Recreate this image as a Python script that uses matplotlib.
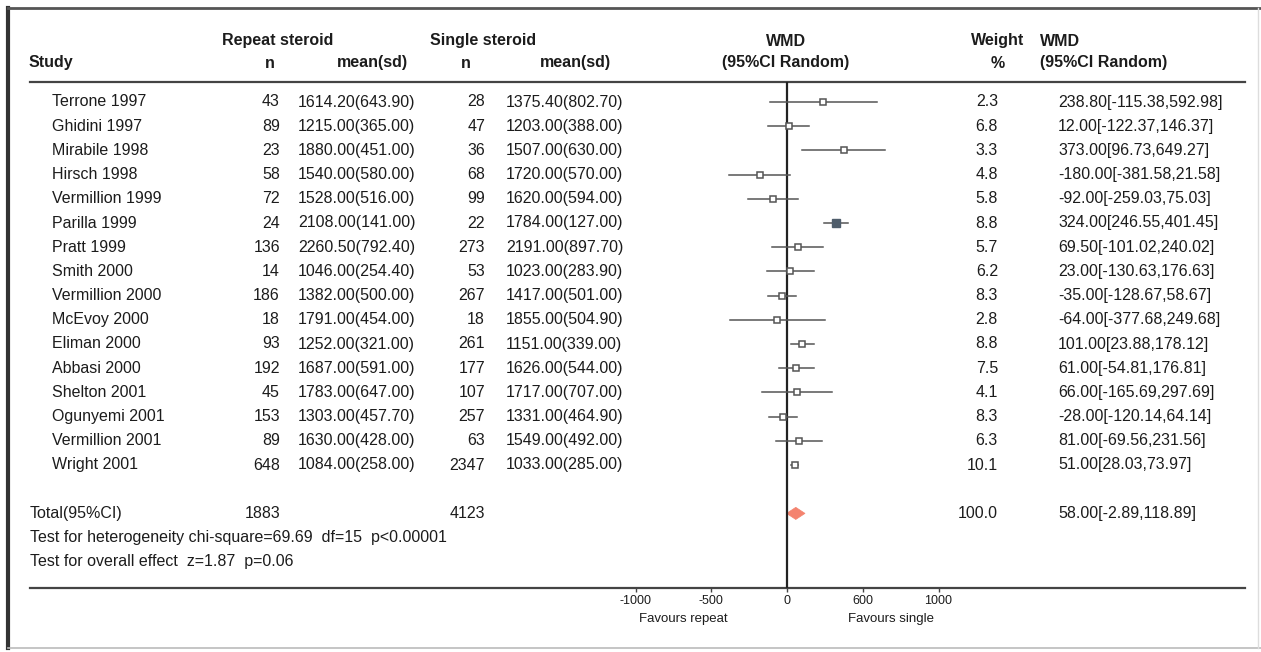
import matplotlib.pyplot as plt
from matplotlib.patches import Polygon

plt.rcParams['font.family'] = ['Liberation Sans', 'DejaVu Sans']

# data
studies = ['Terrone 1997', 'Ghidini 1997', 'Mirabile 1998', 'Hirsch 1998', 'Vermillion 1999',
           'Parilla 1999', 'Pratt 1999', 'Smith 2000', 'Vermillion 2000', 'McEvoy 2000',
           'Eliman 2000', 'Abbasi 2000', 'Shelton 2001', 'Ogunyemi 2001', 'Vermillion 2001',
           'Wright 2001']
n_rep = [43, 89, 23, 58, 72, 24, 136, 14, 186, 18, 93, 192, 45, 153, 89, 648]
mean_rep = [1614.20, 1215.00, 1880.00, 1540.00, 1528.00, 2108.00, 2260.50, 1046.00,
            1382.00, 1791.00, 1252.00, 1687.00, 1783.00, 1303.00, 1630.00, 1084.00]
sd_rep = [643.90, 365.00, 451.00, 580.00, 516.00, 141.00, 792.40, 254.40,
          500.00, 454.00, 321.00, 591.00, 647.00, 457.70, 428.00, 258.00]
n_sin = [28, 47, 36, 68, 99, 22, 273, 53, 267, 18, 261, 177, 107, 257, 63, 2347]
mean_sin = [1375.40, 1203.00, 1507.00, 1720.00, 1620.00, 1784.00, 2191.00, 1023.00,
            1417.00, 1855.00, 1151.00, 1626.00, 1717.00, 1331.00, 1549.00, 1033.00]
sd_sin = [802.70, 388.00, 630.00, 570.00, 594.00, 127.00, 897.70, 283.90,
          501.00, 504.90, 339.00, 544.00, 707.00, 464.90, 492.00, 285.00]
weight = [2.3, 6.8, 3.3, 4.8, 5.8, 8.8, 5.7, 6.2, 8.3, 2.8, 8.8, 7.5, 4.1, 8.3, 6.3, 10.1]
wmd = [238.80, 12.00, 373.00, -180.00, -92.00, 324.00, 69.50, 23.00,
       -35.00, -64.00, 101.00, 61.00, 66.00, -28.00, 81.00, 51.00]
ci_lo = [-115.38, -122.37, 96.73, -381.58, -259.03, 246.55, -101.02, -130.63,
         -128.67, -377.68, 23.88, -54.81, -165.69, -120.14, -69.56, 28.03]
ci_hi = [592.98, 146.37, 649.27, 21.58, 75.03, 401.45, 240.02, 176.63,
         58.67, 249.68, 178.12, 176.81, 297.69, 64.14, 231.56, 73.97]
solid = ['Parilla 1999']

total_n_rep = 1883
total_n_sin = 4123
total_weight = 100.0
total_wmd = 58.00
total_lo = -2.89
total_hi = 118.89

het_text = 'Test for heterogeneity chi-square=69.69  df=15  p<0.00001'
eff_text = 'Test for overall effect  z=1.87  p=0.06'

ticks = [-1000, -500, 0, 500, 1000]
tick_labels = ['-1000', '-500', '0', '600', '1000']

# page geometry in pixels
W, H = 1261, 652
y0, dy = 102, 24.2          # first study row and row spacing
rule_top, rule_bot = 82, 588
x_zero, px_per_unit = 787, 303 / 2000
ax_left, ax_right = 560, 1245

fig = plt.figure(figsize=(W / 100, H / 100), dpi=100)
lay = fig.add_axes([0, 0, 1, 1])
lay.set_xlim(0, W)
lay.set_ylim(H, 0)
lay.axis('off')

ink = '#1c1c1c'
fs = 11.5

# frame of the scanned page
lay.plot([8, 8], [8, 648], color='#333333', lw=3)
lay.plot([8, W], [8, 8], color='#555555', lw=2)
lay.plot([8, W], [648, 648], color='#bbbbbb', lw=1.2)
lay.plot([1258, 1258], [8, 648], color='#dddddd', lw=1)

# header
hb = dict(fontsize=fs, fontweight='bold', color=ink, va='center')
lay.text(278, 41, 'Repeat steroid', ha='center', **hb)
lay.text(483, 41, 'Single steroid', ha='center', **hb)
lay.text(786, 41, 'WMD', ha='center', **hb)
lay.text(998, 41, 'Weight', ha='center', **hb)
lay.text(1040, 41, 'WMD', ha='left', **hb)
lay.text(29, 63, 'Study', ha='left', **hb)
lay.text(270, 63, 'n', ha='center', **hb)
lay.text(372, 63, 'mean(sd)', ha='center', **hb)
lay.text(466, 63, 'n', ha='center', **hb)
lay.text(575, 63, 'mean(sd)', ha='center', **hb)
lay.text(786, 63, '(95%CI Random)', ha='center', **hb)
lay.text(998, 63, '%', ha='center', **hb)
lay.text(1040, 63, '(95%CI Random)', ha='left', **hb)

lay.plot([30, 1245], [rule_top, rule_top], color='#444444', lw=1.6)
lay.plot([30, 1245], [rule_bot, rule_bot], color='#444444', lw=1.6)

tb = dict(fontsize=fs, color=ink, va='center')
for i, name in enumerate(studies):
    y = y0 + i * dy
    lay.text(52, y, name, ha='left', **tb)
    lay.text(280, y, str(n_rep[i]), ha='right', **tb)
    lay.text(298, y, f'{mean_rep[i]:.2f}({sd_rep[i]:.2f})', ha='left', **tb)
    lay.text(485, y, str(n_sin[i]), ha='right', **tb)
    lay.text(506, y, f'{mean_sin[i]:.2f}({sd_sin[i]:.2f})', ha='left', **tb)
    lay.text(998, y, f'{weight[i]:.1f}', ha='right', **tb)
    lay.text(1058, y, f'{wmd[i]:.2f}[{ci_lo[i]:.2f},{ci_hi[i]:.2f}]', ha='left', **tb)

total_row = len(studies) + 1
yt = y0 + total_row * dy
lay.text(30, yt, 'Total(95%CI)', ha='left', **tb)
lay.text(280, yt, str(total_n_rep), ha='right', **tb)
lay.text(485, yt, str(total_n_sin), ha='right', **tb)
lay.text(998, yt, f'{total_weight:.1f}', ha='right', **tb)
lay.text(1058, yt, f'{total_wmd:.2f}[{total_lo:.2f},{total_hi:.2f}]', ha='left', **tb)
lay.text(30, yt + dy, het_text, ha='left', **tb)
lay.text(30, yt + 2 * dy, eff_text, ha='left', **tb)

# forest panel, x in WMD units, y in row units
ax = fig.add_axes([ax_left / W, 1 - rule_bot / H, (ax_right - ax_left) / W, (rule_bot - rule_top) / H])
ax.set_xlim((ax_left - x_zero) / px_per_unit, (ax_right - x_zero) / px_per_unit)
ax.set_ylim((rule_bot - y0) / dy, (rule_top - y0) / dy)
ax.patch.set_alpha(0)
for s in ax.spines.values():
    s.set_visible(False)
ax.set_yticks([])
ax.set_xticks(ticks)
ax.set_xticklabels(tick_labels)
ax.tick_params(axis='x', direction='out', length=3, width=1, color='#444444',
               labelsize=9, labelcolor=ink, pad=2)

ax.axvline(0, color='#222222', lw=1.6)

for i in range(len(studies)):
    ax.plot([ci_lo[i], ci_hi[i]], [i, i], color='#555555', lw=1.1)
    if studies[i] in solid:
        ax.plot(wmd[i], i, marker='s', ms=5.5, mfc='#4f5d6b', mec='#4f5d6b', ls='none')
    else:
        ax.plot(wmd[i], i, marker='s', ms=4.5, mfc='white', mec='#555555', mew=1.1, ls='none')

dh = 0.25
ax.add_patch(Polygon([[total_lo, total_row], [total_wmd, total_row - dh],
                      [total_hi, total_row], [total_wmd, total_row + dh]],
                     closed=True, fc='#f4836f', ec='#f4836f', lw=0.5))

ax.text(-686, (619 - y0) / dy, 'Favours repeat', ha='center', va='center',
        fontsize=9.5, color=ink)
ax.text(686, (619 - y0) / dy, 'Favours single', ha='center', va='center',
        fontsize=9.5, color=ink)

fig.savefig('out.png', dpi=100)
